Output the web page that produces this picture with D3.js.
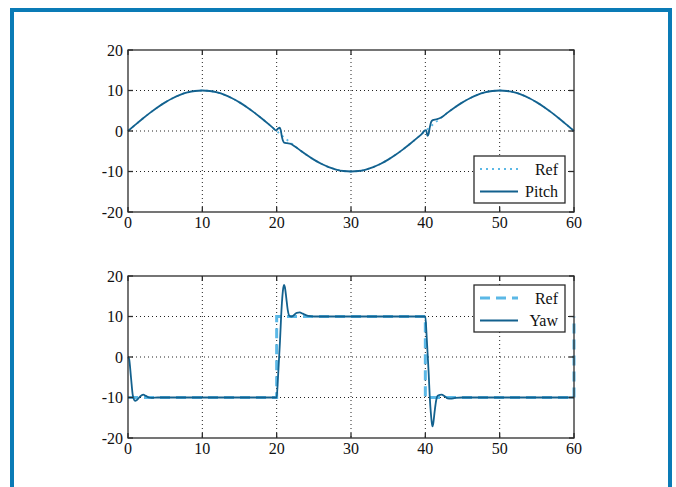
<!DOCTYPE html>
<html>
<head>
<meta charset="utf-8">
<script src="https://cdn.jsdelivr.net/npm/d3@7"></script>
<style>
  html, body { margin: 0; padding: 0; background: #fff; }
  svg { display: block; }
</style>
</head>
<body>
<div id="chart"></div>
<script>
// dimensions
const width = 676;
const height = 487;

// ticks
const xTicks = [0, 10, 20, 30, 40, 50, 60];
const yTicks = [-20, -10, 0, 10, 20];

// pitch reference
const pitchRefT = [0,1,2,3,4,5,6,7,8,9,10,11,12,13,14,15,16,17,18,19,20,21,22,23,24,25,26,27,28,29,30,
  31,32,33,34,35,36,37,38,39,40,41,42,43,44,45,46,47,48,49,50,51,52,53,54,55,56,57,58,59,60];
const pitchRefV = [0,1.56,3.09,4.54,5.88,7.07,8.09,8.91,9.51,9.88,10,9.88,9.51,8.91,8.09,7.07,5.88,4.54,3.09,1.56,0,
  -1.56,-3.09,-4.54,-5.88,-7.07,-8.09,-8.91,-9.51,-9.88,-10,-9.88,-9.51,-8.91,-8.09,-7.07,-5.88,-4.54,-3.09,-1.56,0,
  1.56,3.09,4.54,5.88,7.07,8.09,8.91,9.51,9.88,10,9.88,9.51,8.91,8.09,7.07,5.88,4.54,3.09,1.56,0];

// pitch response
const pitchT = [0,1,2,3,4,5,6,7,8,9,10,11,12,13,14,15,16,17,18,19,19.5,19.9,20.2,20.4,20.55,20.7,20.85,21,21.4,21.8,22.2,22.6,
  23,24,25,26,27,28,29,30,31,32,33,34,35,36,37,38,39,39.5,39.9,40.1,40.3,40.45,40.6,40.8,41,41.5,42,42.5,
  43,44,45,46,47,48,49,50,51,52,53,54,55,56,57,58,59,60];
const pitchV = [0,1.56,3.09,4.54,5.88,7.07,8.09,8.91,9.51,9.88,10,9.88,9.51,8.91,8.09,7.07,5.88,4.54,3.09,1.56,0.78,0.15,0.6,0.8,0.2,-1.4,-2.4,-2.85,-3.0,-3.1,-3.5,-4.0,
  -4.54,-5.88,-7.07,-8.09,-8.91,-9.51,-9.88,-10,-9.88,-9.51,-8.91,-8.09,-7.07,-5.88,-4.54,-3.09,-1.56,-0.78,0.1,0.2,-1.2,-0.7,0.9,2.3,2.7,2.9,3.2,3.8,
  4.54,5.88,7.07,8.09,8.91,9.51,9.88,10,9.88,9.51,8.91,8.09,7.07,5.88,4.54,3.09,1.56,0];

// yaw reference
const yawRefT = [0, 20, 20, 40, 40, 60, 60];
const yawRefV = [-10, -10, 10, 10, -10, -10, 10];

// yaw response
const yawT = [0,0.15,0.4,0.65,0.95,1.2,1.6,2.05,2.4,2.8,3.2,4,10,19.9,20,20.15,20.3,20.45,20.6,20.75,20.9,21,21.1,21.3,21.5,21.7,22,22.3,22.7,23.1,23.5,24,24.5,25,30,
  39.9,40,40.15,40.3,40.45,40.6,40.75,40.9,40.95,41.05,41.25,41.45,41.7,42.2,42.6,43,43.4,44,45,50,60];
const yawV = [0,-0.5,-5,-9.5,-10.8,-10.6,-9.8,-9.3,-9.6,-10,-10.1,-10,-10,-10,-10,-6,-1,4,10,14.5,17.2,17.8,17.3,14.5,11.5,10.2,10,10.3,10.9,11,10.7,10.3,10.1,10,10,
  10,10,6,1,-4,-10,-14,-16.6,-17.1,-16.6,-13.5,-10.8,-9.5,-9.3,-9.7,-10.2,-10.3,-10.1,-10,-10,-10];

// colours
const frameColor = "#0a7bb6";
const lineColor = "#13618e";
const refColor = "#5bb8e6";
const axisColor = "#2b2b2b";
const font = "Liberation Serif";

const svg = d3.select("#chart").append("svg")
  .attr("width", width)
  .attr("height", height);

// frame (bottom edge is outside the picture)
svg.append("rect")
  .attr("x", 12).attr("y", 10)
  .attr("width", 658).attr("height", 500)
  .attr("fill", "none")
  .attr("stroke", frameColor)
  .attr("stroke-width", 4);

const x = d3.scaleLinear().domain([0, 60]).range([128, 574]);

function zip(ts, vs) { return ts.map((t, i) => [t, vs[i]]); }

function panel(top, bottom, series, legend) {
  const y = d3.scaleLinear().domain([-20, 20]).range([bottom, top]);
  const g = svg.append("g");

  // grid
  g.selectAll(".gx").data(xTicks.slice(1, -1)).join("line")
    .attr("x1", d => x(d)).attr("x2", d => x(d))
    .attr("y1", top).attr("y2", bottom)
    .attr("stroke", "#222").attr("stroke-width", 1)
    .attr("stroke-dasharray", "1,3");
  g.selectAll(".gy").data(yTicks.slice(1, -1)).join("line")
    .attr("y1", d => y(d)).attr("y2", d => y(d))
    .attr("x1", x(0)).attr("x2", x(60))
    .attr("stroke", "#222").attr("stroke-width", 1)
    .attr("stroke-dasharray", "1,3");

  // lines (ref first, response drawn on top)
  series.forEach(s => {
    const line = d3.line()
      .x(d => x(d[0])).y(d => y(d[1]))
      .curve(s.curve);
    g.append("path")
      .datum(s.data)
      .attr("d", line)
      .attr("fill", "none")
      .attr("stroke", s.color)
      .attr("stroke-width", s.width)
      .attr("stroke-dasharray", s.dash);
  });

  // box
  g.append("rect")
    .attr("x", x(0)).attr("y", top)
    .attr("width", x(60) - x(0)).attr("height", bottom - top)
    .attr("fill", "none").attr("stroke", axisColor).attr("stroke-width", 1.3);

  // inward ticks on all sides
  const tl = 5;
  xTicks.forEach(t => {
    g.append("line").attr("x1", x(t)).attr("x2", x(t)).attr("y1", bottom).attr("y2", bottom - tl)
      .attr("stroke", axisColor).attr("stroke-width", 1.3);
    g.append("line").attr("x1", x(t)).attr("x2", x(t)).attr("y1", top).attr("y2", top + tl)
      .attr("stroke", axisColor).attr("stroke-width", 1.3);
  });
  yTicks.forEach(t => {
    g.append("line").attr("x1", x(0)).attr("x2", x(0) + tl).attr("y1", y(t)).attr("y2", y(t))
      .attr("stroke", axisColor).attr("stroke-width", 1.3);
    g.append("line").attr("x1", x(60)).attr("x2", x(60) - tl).attr("y1", y(t)).attr("y2", y(t))
      .attr("stroke", axisColor).attr("stroke-width", 1.3);
  });

  // tick labels
  g.selectAll(".xl").data(xTicks).join("text")
    .attr("x", d => x(d)).attr("y", bottom + 16)
    .attr("text-anchor", "middle")
    .attr("font-family", font).attr("font-size", 16).attr("fill", "#111")
    .text(d => d);
  g.selectAll(".yl").data(yTicks).join("text")
    .attr("x", x(0) - 5).attr("y", d => y(d) + 5.5)
    .attr("text-anchor", "end")
    .attr("font-family", font).attr("font-size", 16).attr("fill", "#111")
    .text(d => d);

  // legend
  const lg = g.append("g");
  lg.append("rect")
    .attr("x", legend.x).attr("y", legend.y)
    .attr("width", 91).attr("height", 47)
    .attr("fill", "#fff").attr("stroke", axisColor).attr("stroke-width", 1.3);
  series.forEach((s, i) => {
    const ly = legend.y + 13 + i * 22.5;
    lg.append("line")
      .attr("x1", legend.x + 6).attr("x2", legend.x + 44)
      .attr("y1", ly).attr("y2", ly)
      .attr("stroke", s.color).attr("stroke-width", s.width)
      .attr("stroke-dasharray", s.dash);
    lg.append("text")
      .attr("x", legend.x + 84).attr("y", ly + 5.5)
      .attr("text-anchor", "end")
      .attr("font-family", font).attr("font-size", 16).attr("fill", "#111")
      .text(s.name);
  });
}

// top: pitch
panel(50, 212, [
  { name: "Ref", data: zip(pitchRefT, pitchRefV), color: refColor, width: 1.8, dash: "2,4", curve: d3.curveMonotoneX },
  { name: "Pitch", data: zip(pitchT, pitchV), color: lineColor, width: 1.8, dash: null, curve: d3.curveMonotoneX }
], { x: 474, y: 156 });

// bottom: yaw
panel(276, 438, [
  { name: "Ref", data: zip(yawRefT, yawRefV), color: refColor, width: 3, dash: "10,6", curve: d3.curveLinear },
  { name: "Yaw", data: zip(yawT, yawV), color: lineColor, width: 1.8, dash: null, curve: d3.curveMonotoneX }
], { x: 474, y: 285 });
</script>
</body>
</html>
